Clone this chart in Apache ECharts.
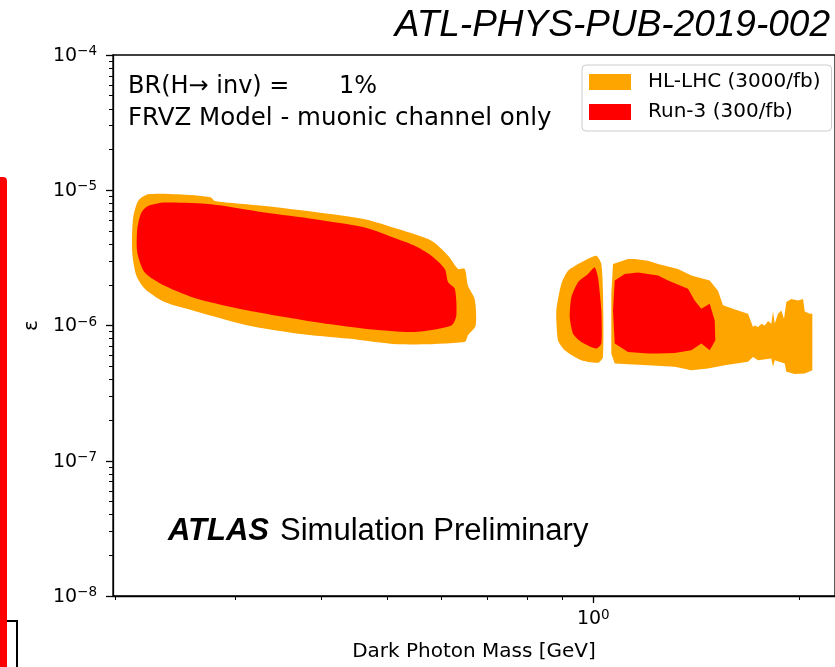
<!DOCTYPE html>
<html><head><meta charset="utf-8">
<script src="https://cdn.jsdelivr.net/npm/echarts@6/dist/echarts.min.js"></script>
<style>html,body{margin:0;padding:0;background:#fff}#c{width:835px;height:667px}</style>
</head><body><div id="c"></div>
<script>
// ---- data: exclusion contours [dark photon mass (GeV), epsilon] ----
const hlLowMass = [
  [0.2234, 9.33e-6], [0.2470, 9.33e-6], [0.2757, 8.87e-6], [0.2795, 8.33e-6], [0.3309, 7.65e-6],
  [0.3915, 6.91e-6], [0.4632, 6.11e-6], [0.5183, 5.16e-6], [0.5798, 4.23e-6], [0.6134, 3.28e-6],
  [0.6343, 2.62e-6], [0.6486, 2.62e-6], [0.6558, 1.97e-6], [0.6707, 1.57e-6], [0.6730, 1.00e-6],
  [0.6558, 8.46e-7], [0.6486, 7.56e-7], [0.5183, 7.26e-7], [0.4379, 8.00e-7], [0.3701, 8.70e-7],
  [0.3128, 1.00e-6], [0.2642, 1.26e-6], [0.2362, 1.49e-6], [0.2209, 1.87e-6], [0.2147, 2.34e-6],
  [0.2118, 3.47e-6], [0.2123, 6.11e-6], [0.2160, 8.33e-6]
];
const run3LowMass = [
  [0.2234, 7.65e-6], [0.2362, 8.11e-6], [0.2763, 7.87e-6], [0.3309, 6.84e-6], [0.3915, 6.11e-6],
  [0.4632, 5.31e-6], [0.5183, 4.35e-6], [0.5482, 3.89e-6], [0.5798, 3.28e-6], [0.6065, 2.62e-6],
  [0.6134, 2.09e-6], [0.6274, 1.87e-6], [0.6306, 1.19e-6], [0.6202, 1.00e-6], [0.5482, 8.96e-7],
  [0.4632, 9.47e-7], [0.3915, 1.06e-6], [0.3128, 1.29e-6], [0.2642, 1.57e-6], [0.2362, 1.97e-6],
  [0.2209, 2.47e-6], [0.2154, 3.47e-6], [0.2154, 5.16e-6], [0.2184, 6.84e-6]
];
const hlMidMass = [
  [0.9184, 2.54e-6], [0.9604, 2.93e-6], [1.0102, 3.28e-6], [1.0273, 2.85e-6], [1.0332, 1.71e-6],
  [1.0332, 5.86e-7], [1.0159, 5.30e-7], [0.9604, 5.53e-7], [0.9082, 6.56e-7], [0.8878, 7.77e-7],
  [0.8829, 1.29e-6], [0.8978, 2.03e-6]
];
const run3MidMass = [
  [0.9823, 2.40e-6], [1.0047, 2.69e-6], [1.0159, 2.27e-6], [1.0273, 1.29e-6], [1.0273, 7.35e-7],
  [1.0102, 6.75e-7], [0.9604, 7.56e-7], [0.9340, 8.70e-7], [0.9237, 1.15e-6], [0.9287, 1.62e-6],
  [0.9498, 2.09e-6]
];
const hlHighMass = [
  [1.0686, 2.85e-6], [1.1240, 3.10e-6], [1.1496, 3.10e-6], [1.2022, 3.01e-6], [1.2434, 2.85e-6],
  [1.3299, 2.62e-6], [1.3908, 2.34e-6], [1.4797, 2.15e-6], [1.5215, 1.81e-6], [1.5473, 1.41e-6],
  [1.6274, 1.29e-6], [1.6834, 1.22e-6], [1.7120, 9.75e-7], [1.7219, 1.00e-6], [1.7411, 9.75e-7],
  [1.7608, 1.03e-6], [1.7809, 1.00e-6], [1.8006, 1.08e-6], [1.8206, 1.03e-6], [1.8311, 1.27e-6],
  [1.8418, 1.03e-6], [1.8621, 1.22e-6], [1.8832, 1.29e-6], [1.9002, 1.12e-6], [1.9152, 1.49e-6],
  [1.9477, 1.57e-6], [1.9922, 1.53e-6], [2.0259, 1.57e-6], [2.0376, 1.27e-6], [2.0722, 1.22e-6],
  [2.0904, 1.22e-6], [2.0904, 4.67e-7], [2.0376, 4.42e-7], [1.9699, 4.37e-7], [1.9152, 4.55e-7],
  [1.9047, 5.24e-7], [1.8418, 5.53e-7], [1.8311, 4.95e-7], [1.8206, 5.70e-7], [1.7411, 5.53e-7],
  [1.7120, 5.86e-7], [1.6834, 5.39e-7], [1.5563, 5.09e-7], [1.4712, 4.81e-7], [1.3908, 4.67e-7],
  [1.3152, 4.95e-7], [1.2022, 5.09e-7], [1.0747, 5.24e-7], [1.0625, 6.20e-7], [1.0625, 1.71e-6]
];
const run3HighMass = [
  [1.0747, 2.15e-6], [1.1115, 2.40e-6], [1.1624, 2.47e-6], [1.2434, 2.34e-6], [1.2859, 2.15e-6],
  [1.3756, 1.87e-6], [1.4066, 1.53e-6], [1.4384, 1.33e-6], [1.4797, 1.45e-6], [1.5048, 1.09e-6],
  [1.5079, 7.77e-7], [1.4797, 6.56e-7], [1.4384, 7.35e-7], [1.3908, 6.56e-7], [1.3152, 6.27e-7],
  [1.2434, 6.20e-7], [1.2022, 6.20e-7], [1.1240, 6.38e-7], [1.0747, 7.35e-7], [1.0686, 1.29e-6]
];
const seriesNames = ['HL-LHC (3000/fb)', 'Run-3 (300/fb)'];
const xMajorTicks = [1];
const xMinorTicks = [0.2, 0.3, 0.4, 0.5, 0.6, 0.7, 0.8, 0.9, 2];
const yMajorTicks = [1e-8, 1e-7, 1e-6, 1e-5, 1e-4];
const yMinorTicks = [2e-8, 3e-8, 4e-8, 5e-8, 6e-8, 7e-8, 8e-8, 9e-8,
  2e-7, 3e-7, 4e-7, 5e-7, 6e-7, 7e-7, 8e-7, 9e-7,
  2e-6, 3e-6, 4e-6, 5e-6, 6e-6, 7e-6, 8e-6, 9e-6,
  2e-5, 3e-5, 4e-5, 5e-5, 6e-5, 7e-5, 8e-5, 9e-5];

const ORANGE = '#FFA500', RED = '#FF0000';
const FONT = 'DejaVu Sans';
const X_MIN = 0.1985, X_MAX = 2.256, Y_MIN = 1e-8, Y_MAX = 1e-4;

function polySeries(name, pts, color, smooth) {
  return {
    type: 'custom', name: name, data: pts, encode: { x: 0, y: 1 },
    xAxisIndex: 0, yAxisIndex: 0, clip: true, silent: true, animation: false,
    itemStyle: { color: color },
    renderItem: function (params, api) {
      if (params.dataIndex !== 0) return null;
      const points = pts.map(function (p) { return api.coord(p); });
      return { type: 'polygon', shape: { points: points, smooth: smooth || 0 }, style: { fill: color } };
    }
  };
}
function powLabel(v) {
  const e = Math.round(Math.log10(v));
  return '{b|10}{s|' + (e < 0 ? '\u2212' + (-e) : String(e)) + '}';
}
const rich = {
  b: { fontFamily: FONT, fontSize: 19, lineHeight: 21, verticalAlign: 'bottom', color: '#000' },
  s: { fontFamily: FONT, fontSize: 13.5, lineHeight: 13, verticalAlign: 'top', color: '#000' }
};

const chart = echarts.init(document.getElementById('c'), null, { renderer: 'canvas' });
chart.setOption({
  animation: false,
  backgroundColor: '#fff',
  grid: { left: 113, top: 55, right: -2, bottom: 68, show: true, borderColor: '#000', borderWidth: 1.3, backgroundColor: 'transparent' },
  legend: {
    orient: 'vertical', left: 582, top: 65, selectedMode: false,
    data: [{ name: seriesNames[0], icon: 'rect' }, { name: seriesNames[1], icon: 'rect' }],
    itemWidth: 42, itemHeight: 16, itemGap: 10, padding: [7, 11, 9, 7],
    borderColor: '#cccccc', borderWidth: 1, borderRadius: 4, backgroundColor: 'rgba(255,255,255,0.8)',
    textStyle: { fontFamily: FONT, fontSize: 20, color: '#000', lineHeight: 20, padding: [0, 0, 0, 12] }
  },
  xAxis: [
    {
      type: 'log', min: X_MIN, max: X_MAX, position: 'bottom',
      name: 'Dark Photon Mass [GeV]', nameLocation: 'middle', nameGap: 46,
      nameTextStyle: { fontFamily: FONT, fontSize: 20, color: '#000' },
      axisLine: { lineStyle: { color: '#000', width: 1.3 } },
      axisTick: { customValues: xMajorTicks, length: 7, lineStyle: { color: '#000', width: 1.3 } },
      axisLabel: { customValues: xMajorTicks, margin: 12, formatter: powLabel, rich: rich },
      splitLine: { show: false }, minorTick: { show: false }
    },
    {
      type: 'log', min: X_MIN, max: X_MAX, position: 'bottom',
      axisLine: { show: false },
      axisTick: { customValues: xMinorTicks, length: 4, lineStyle: { color: '#000', width: 1 } },
      axisLabel: { show: false }, splitLine: { show: false }
    }
  ],
  yAxis: [
    {
      type: 'log', min: Y_MIN, max: Y_MAX, position: 'left',
      name: '\u03b5', nameLocation: 'middle', nameGap: 70, nameRotate: 90,
      nameTextStyle: { fontFamily: FONT, fontSize: 20, color: '#000' },
      axisLine: { lineStyle: { color: '#000', width: 1.3 } },
      axisTick: { customValues: yMajorTicks, length: 7, lineStyle: { color: '#000', width: 1.3 } },
      axisLabel: { customValues: yMajorTicks, margin: 16, formatter: powLabel, rich: rich },
      splitLine: { show: false }
    },
    {
      type: 'log', min: Y_MIN, max: Y_MAX, position: 'left',
      axisLine: { show: false },
      axisTick: { customValues: yMinorTicks, length: 4, lineStyle: { color: '#000', width: 1 } },
      axisLabel: { show: false }, splitLine: { show: false }
    }
  ],
  series: [
    polySeries(seriesNames[0], hlLowMass, ORANGE, 0.25),
    polySeries(seriesNames[0], hlMidMass, ORANGE, 0.2),
    polySeries(seriesNames[0], hlHighMass, ORANGE, 0),
    polySeries(seriesNames[1], run3LowMass, RED, 0.25),
    polySeries(seriesNames[1], run3MidMass, RED, 0.2),
    polySeries(seriesNames[1], run3HighMass, RED, 0)
  ],
  graphic: [
    { type: 'text', right: 5, top: 7, style: { text: 'ATL-PHYS-PUB-2019-002', fontFamily: 'Liberation Sans', fontStyle: 'italic', fontSize: 37, fill: '#000' } },
    { type: 'text', x: 128, y: 87, style: { text: 'BR(H\u2192 inv) =', fontFamily: FONT, fontSize: 24, fill: '#000', verticalAlign: 'middle' } },
    { type: 'text', x: 339, y: 87, style: { text: '1%', fontFamily: FONT, fontSize: 24, fill: '#000', verticalAlign: 'middle' } },
    { type: 'text', x: 128, y: 118.5, style: { text: 'FRVZ Model - muonic channel only', fontFamily: FONT, fontSize: 24.5, fill: '#000', verticalAlign: 'middle' } },
    { type: 'text', x: 168, y: 531, style: {
        text: '{a|ATLAS}{n|Simulation Preliminary}', verticalAlign: 'middle',
        rich: {
          a: { fontFamily: 'Liberation Sans', fontSize: 31, fontWeight: 'bold', fontStyle: 'italic', fill: '#000' },
          n: { fontFamily: 'Liberation Sans', fontSize: 31, fill: '#000', padding: [0, 0, 0, 11] }
        } } },
    { type: 'rect', shape: { x: 0, y: 177, width: 7, height: 500, r: [0, 4, 0, 0] }, style: { fill: '#FF0000' } },
    { type: 'polyline', shape: { points: [[7, 621], [17, 621], [17, 670]] }, style: { stroke: '#000', lineWidth: 2, fill: null } }
  ]
});
</script>
</body></html>
